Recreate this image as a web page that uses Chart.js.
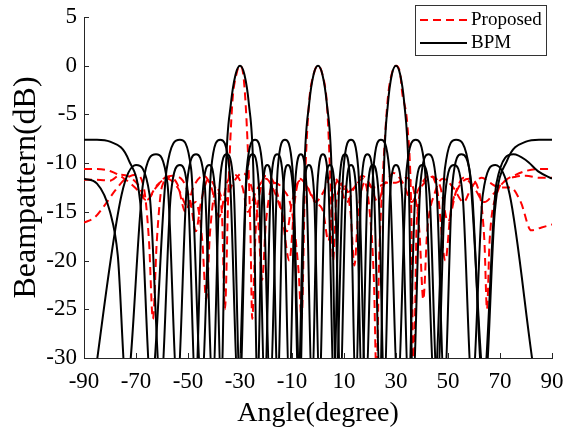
<!DOCTYPE html>
<html>
<head>
<meta charset="utf-8">
<script src="https://cdn.jsdelivr.net/npm/chart.js@4.4.0/dist/chart.umd.min.js"></script>
<style>
  html, body { margin: 0; padding: 0; background: #fff; }
  #wrap { width: 567px; height: 433px; }
</style>
</head>
<body>
<div id="wrap"><canvas id="bpChart" width="567" height="433"></canvas></div>
<script>
// tick labels
const xTicks = [-90, -70, -50, -30, -10, 10, 30, 50, 70, 90];
const yTicks = [5, 0, -5, -10, -15, -20, -25, -30];

// BPM, beam at 0 deg (angle in degree, gain in dB; values under -30 are off the plot)
const bpm0Angle = [-90, -85, -80, -72.8, -68, -64.2, -58.2, -53.1, -48.8, -44.8, -41.1, -37.6, -34.1, -30.7, -27.4, -24.2, -21.3, -18.4, -15.5, -12.7, -9.8, -6.9, -5.2, -3.4, -1.7, 0,
                   1.7, 3.4, 5.2, 6.9, 9.8, 12.7, 15.5, 18.4, 21.3, 24.2, 27.4, 30.7, 34.1, 37.6, 41.1, 44.8, 48.8, 53.1, 58.2, 64.2, 68, 72.8, 80, 85, 90];
const bpm0Gain = [-7.6, -7.6, -7.8, -9.7, -15, -33, -10.6, -7.6, -10.6, -33, -10.6, -7.6, -10.6, -33, -10.6, -7.6, -10.6, -33, -10.6, -7.6, -10.6, -33, -10.5, -3.9, -0.9, 0,
                  -0.9, -3.9, -10.5, -33, -10.6, -7.6, -10.6, -33, -10.6, -7.6, -10.6, -33, -10.6, -7.6, -10.6, -33, -10.6, -7.6, -10.6, -33, -15, -9.7, -7.8, -7.6, -7.6];

// BPM, beam at 30 deg
const bpm30Angle = [-90, -85, -80, -77, -73.7, -67.3, -62.3, -57.9, -54.1, -50.4, -46.9, -43.6, -40.5, -37.8, -35.1, -32.5, -30, -27.6, -25.2, -22.8, -20.5, -18.1, -15.7, -13.3, -11, -8.8, -6.6, -4.5, -2.3, -0.2,
                    1.9, 4, 6.1, 8.2, 10.4, 12.4, 14.5, 16.7, 19, 21.4, 23.9, 25.4, 26.9, 28.4, 30, 31.6, 33.2, 34.8, 36.5, 39.4, 42.5, 45.5, 48.6, 51.7, 55.1, 59, 63.5, 68.6, 75.2, 80, 85, 90];
const bpm30Gain = [-11.6, -12.1, -15, -19.5, -33, -12.1, -9.1, -12.1, -33, -12.1, -9.1, -12.1, -33, -12.1, -9.1, -12.1, -33, -12.1, -9.1, -12.1, -33, -12.1, -9.1, -12.1, -33, -12.1, -9.1, -12.1, -33, -12.1,
                   -9.1, -12.1, -33, -12.1, -9.1, -12.1, -33, -12.1, -9.1, -12.1, -33, -10.5, -3.9, -0.9, 0, -0.9, -3.9, -10.5, -33, -12.1, -9.1, -12.1, -33, -12.1, -9.1, -12.1, -33, -12.1, -9.1, -9.7, -10.9, -11.6];

// BPM, beam at -30 deg
const bpmM30Angle = [-90, -86.4, -75.5, -70, -64.8, -60.5, -56.6, -53.1, -50, -47.1, -44.4, -41.8, -39.5, -37.2, -35.4, -33.5, -31.7, -30, -28.3, -26.6, -24.9, -23.3, -21.4, -19.5, -17.5, -15.5, -13.5, -11.6, -9.5, -7.5, -5.5, -3.5, -1.5,
                     0.6, 2.6, 4.6, 6.6, 8.6, 10.7, 12.7, 14.8, 16.9, 19, 21.1, 23.3, 25.5, 27.7, 30, 32.3, 34.8, 37.4, 40.1, 42.9, 45.9, 48.9, 52.3, 55.6, 59.3, 63.4, 68.2, 73.7, 84, 90];
const bpmM30Gain = [-40, -33, -13.2, -10.2, -13.2, -33, -13.2, -10.2, -13.2, -33, -13.2, -10.2, -13.2, -33, -10.5, -3.9, -0.9, 0, -0.9, -3.9, -10.5, -33, -13.2, -10.2, -13.2, -33, -13.2, -10.2, -13.2, -33, -13.2, -10.2, -13.2,
                    -33, -13.2, -10.2, -13.2, -33, -13.2, -10.2, -13.2, -33, -13.2, -10.2, -13.2, -33, -13.2, -10.2, -13.2, -33, -13.2, -10.2, -13.2, -33, -13.2, -10.2, -13.2, -33, -13.2, -10.2, -13.2, -33, -40];

// Proposed, beam at 0 deg
const prop0Angle = [-90, -85, -80, -75, -70, -66, -62, -58, -54, -50, -47, -44.5, -43, -41.5, -39, -36, -33, -29, -25.5, -23, -21.5, -20, -17, -14, -10, -7.5, -6.3, -5, -3.5, -1.7, 0,
                    1.7, 3.5, 4.8, 5.8, 7, 10, 12.5, 14, 15.5, 18, 21, 26, 29, 33, 36, 39, 43, 46, 49, 51, 54, 58, 62, 64, 65, 66, 69, 72, 76, 80, 85, 90];
const prop0Gain = [-10.6, -10.6, -10.8, -11.5, -12.6, -13.8, -12.3, -11.6, -12.5, -14.5, -14, -18, -24, -17, -12.5, -14, -12.2, -11, -12.5, -16, -22, -16, -12, -12.5, -15, -21, -26, -12, -4, -0.9, 0,
                   -0.9, -4.2, -12, -20, -14, -12.3, -15, -20.5, -15, -12, -12.5, -12, -11, -12.2, -14, -12.5, -11.2, -13, -20, -15, -12.5, -11.6, -13, -18, -25, -18, -13, -11.8, -11.2, -10.8, -10.6, -10.6];

// Proposed, beam at 30 deg
const prop30Angle = [-90, -85, -80, -76, -72, -69, -66, -62, -58, -54, -51, -48, -44, -41, -38, -35, -32, -29, -27, -24, -20, -17, -14, -12, -10, -7, -4, -1,
                     2, 4, 6, 8, 11, 14, 17, 19.5, 21.5, 22.5, 23.5, 25, 26.8, 28.4, 30, 31.6, 32.4, 34.4, 35.8, 36.8, 38, 41, 44, 47, 50, 53, 56, 60, 64, 68, 72, 76, 80, 85, 90];
const prop30Gain = [-11.7, -11.7, -11.8, -11.2, -11.5, -12.3, -13.8, -12.4, -11.4, -12.2, -15, -12.5, -11.3, -12.5, -15.5, -12, -11.2, -12.5, -15, -13, -11.6, -12.8, -15, -17, -14, -11.8, -12.5, -14,
                    -15, -18, -13, -11.8, -13, -12.5, -11.6, -14, -22, -32, -20, -11, -3.5, -0.8, 0, -0.8, -2.8, -6.2, -14, -32, -16, -12, -11.4, -12.4, -16, -13, -11.5, -12.5, -14, -13, -11.8, -11.4, -11.3, -11.5, -11.5];

// Proposed, beam at -30 deg
const propM30Angle = [-90, -86, -82, -78, -74, -70, -67, -65, -63.5, -62, -60, -56, -52, -49, -47, -45, -42, -39, -37, -35.8, -34.5, -33, -31.5, -30, -28.5, -27, -26, -25.3, -24, -22, -20, -17, -14, -11, -9, -7, -4, -1,
                      2, 5, 8, 11, 14, 17, 20, 23, 26, 30, 34, 37, 39, 40.5, 42, 45, 48, 52, 56, 59, 63, 66, 70, 74, 78, 82, 86, 90];
const propM30Gain = [-16.1, -15.6, -14.3, -12.8, -11.6, -11.2, -12.5, -18, -26, -18, -12.4, -11.3, -11.8, -14, -17, -14, -11.6, -12.8, -15, -25, -13, -4, -1, 0, -1.5, -8.5, -17, -26, -17, -12.5, -11.3, -12, -15, -20, -14, -11.6, -12.5, -14,
                     -13, -11.4, -12, -14, -12.5, -11.3, -12.2, -14, -12, -12, -11.5, -13, -17, -24, -17, -13, -11.6, -12.5, -14, -12.5, -11.5, -12, -12.5, -12.5, -14, -16.9, -16.6, -16.3];

function pts(xs, ys) {
    return xs.map((x, i) => ({ x: x, y: ys[i] }));
}

const serif = "'Liberation Serif', 'Times New Roman', serif";

// inward ticks + legend box, like the matlab figure
const figureDecor = {
    id: 'figureDecor',
    afterDraw(chart) {
        const ctx = chart.ctx;
        const xs = chart.scales.x, ys = chart.scales.y;
        const area = chart.chartArea;
        ctx.save();
        ctx.strokeStyle = '#262626';
        ctx.lineWidth = 1;
        ctx.beginPath();
        xTicks.forEach(v => {
            const px = Math.round(xs.getPixelForValue(v)) + 0.5;
            ctx.moveTo(px, area.bottom);
            ctx.lineTo(px, area.bottom - 5);
        });
        yTicks.forEach(v => {
            const py = Math.round(ys.getPixelForValue(v)) + 0.5;
            ctx.moveTo(area.left, py);
            ctx.lineTo(area.left + 5, py);
        });
        ctx.stroke();

        // legend
        ctx.fillStyle = '#fff';
        ctx.fillRect(415.5, 5.5, 131, 50);
        ctx.strokeStyle = '#333';
        ctx.strokeRect(415.5, 5.5, 131, 50);
        ctx.lineWidth = 2;
        ctx.strokeStyle = 'rgb(255,0,0)';
        ctx.setLineDash([8, 5]);
        ctx.beginPath();
        ctx.moveTo(420, 20);
        ctx.lineTo(467, 20);
        ctx.stroke();
        ctx.setLineDash([]);
        ctx.strokeStyle = '#000';
        ctx.beginPath();
        ctx.moveTo(420, 43);
        ctx.lineTo(467, 43);
        ctx.stroke();
        ctx.fillStyle = '#000';
        ctx.font = '19px ' + serif;
        ctx.textBaseline = 'middle';
        ctx.fillText('Proposed', 471, 20);
        ctx.fillText('BPM', 471, 43);
        ctx.restore();
    }
};

function redSet(label, xs, ys) {
    return {
        label: label,
        data: pts(xs, ys),
        borderColor: 'rgb(255,0,0)',
        borderWidth: 2,
        borderDash: [8, 5],
        order: 2
    };
}
function blackSet(label, xs, ys) {
    return {
        label: label,
        data: pts(xs, ys),
        borderColor: '#000',
        borderWidth: 2,
        order: 1
    };
}

const ctx = document.getElementById('bpChart').getContext('2d');
const chart = new Chart(ctx, {
    type: 'scatter',
    data: {
        datasets: [
            redSet('Proposed', prop0Angle, prop0Gain),
            redSet('Proposed 30', prop30Angle, prop30Gain),
            redSet('Proposed -30', propM30Angle, propM30Gain),
            blackSet('BPM', bpm0Angle, bpm0Gain),
            blackSet('BPM 30', bpm30Angle, bpm30Gain),
            blackSet('BPM -30', bpmM30Angle, bpmM30Gain)
        ]
    },
    options: {
        responsive: false,
        animation: false,
        showLine: true,
        clip: 0,
        layout: { padding: { top: 17, right: 15, left: 0, bottom: 0 } },
        elements: {
            point: { radius: 0 },
            line: { cubicInterpolationMode: 'monotone', fill: false }
        },
        plugins: {
            legend: { display: false },
            tooltip: { enabled: false }
        },
        scales: {
            x: {
                type: 'linear',
                min: -90,
                max: 90,
                afterFit: s => { s.height = 75; s.paddingLeft = 0; s.paddingRight = 0; },
                afterBuildTicks: s => { s.ticks = xTicks.map(v => ({ value: v })); },
                grid: { display: true, drawOnChartArea: false, drawTicks: false },
                border: { display: true, color: '#262626', width: 1 },
                ticks: { color: '#000', padding: 10, font: { family: serif, size: 23 } },
                title: {
                    display: true,
                    text: 'Angle(degree)',
                    color: '#000',
                    font: { family: serif, size: 28, lineHeight: 1 },
                    padding: { bottom: 5 }
                }
            },
            y: {
                min: -30,
                max: 5,
                afterFit: s => { s.width = 84; s.paddingTop = 0; s.paddingBottom = 0; },
                afterBuildTicks: s => { s.ticks = yTicks.map(v => ({ value: v })); },
                grid: { display: true, drawOnChartArea: false, drawTicks: false },
                border: { display: true, color: '#262626', width: 1 },
                ticks: { color: '#000', padding: 7, font: { family: serif, size: 23 } },
                title: {
                    display: true,
                    text: 'Beampattern(dB)',
                    color: '#000',
                    font: { family: serif, size: 32, lineHeight: 1 },
                    padding: { top: 11 }
                }
            }
        }
    },
    plugins: [figureDecor]
});
</script>
</body>
</html>
